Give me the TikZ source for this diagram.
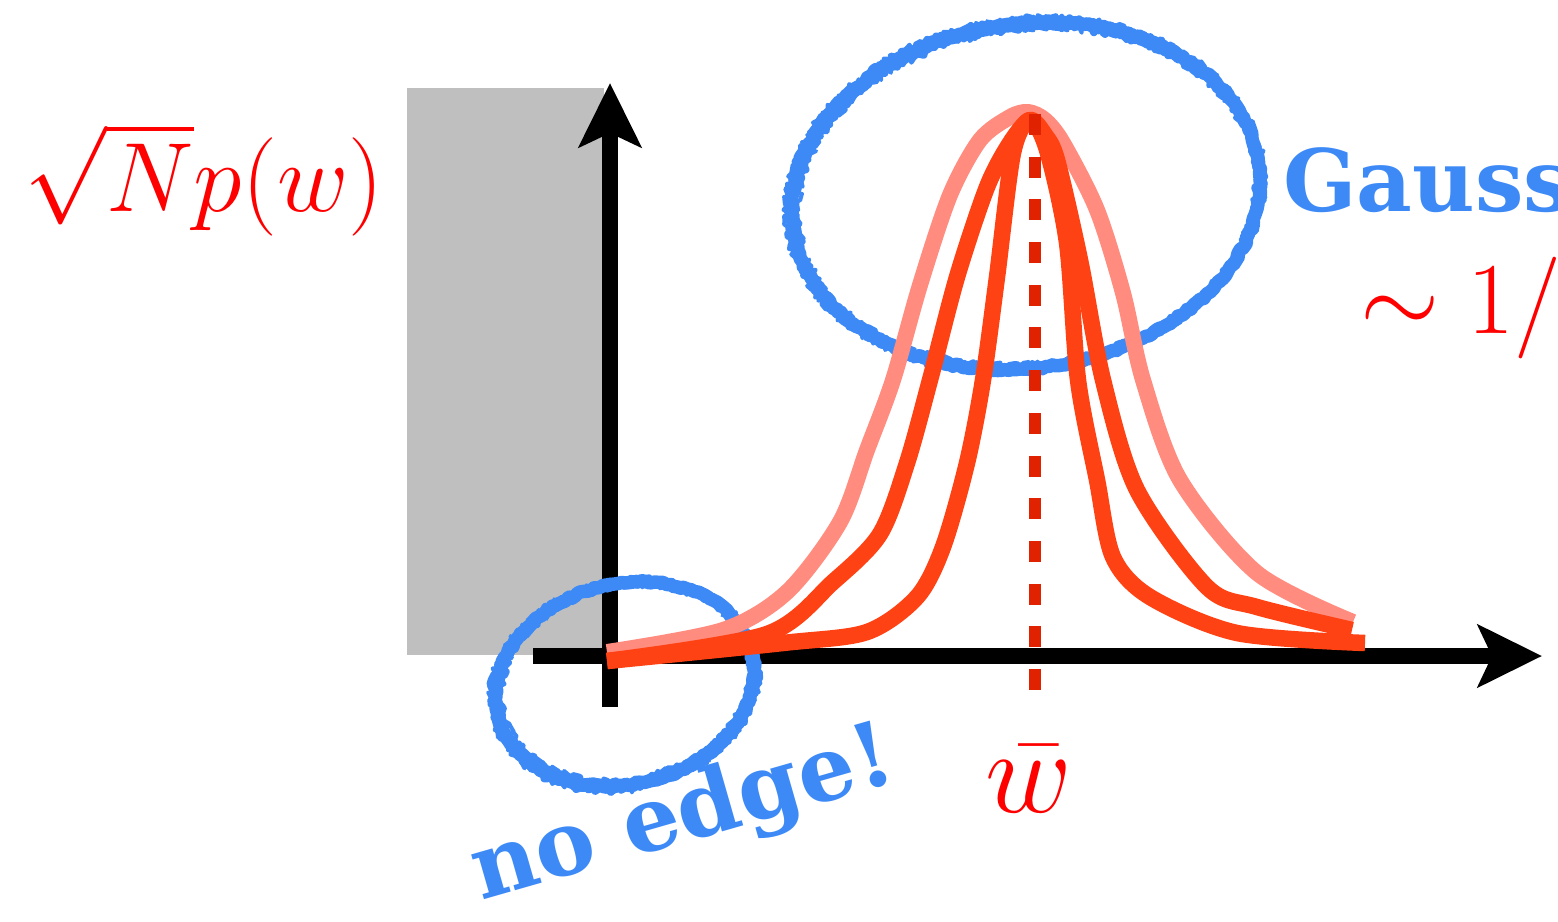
\RequirePackage{fix-cm}
\documentclass[tikz,border=0pt]{standalone}
\usepackage{fontspec}
\newfontfamily\decofont{DejaVu Serif}
\usetikzlibrary{arrows.meta,decorations.pathmorphing}
\definecolor{myblue}{HTML}{3D8AF7}
\definecolor{lightred}{HTML}{FF8C7E}
\definecolor{mainred}{HTML}{FF4213}
\definecolor{dashred}{HTML}{E02200}
\definecolor{rectgray}{HTML}{BFBFBF}
\begin{document}
\begin{tikzpicture}[x=0.02cm,y=-0.02cm,
  axis/.style={line width=0.32cm,-{Stealth[length=1.28cm,width=1.24cm,inset=0.28cm]}},
  curvelight/.style={lightred,line width=0.32cm,line join=round},
  curvemain/.style={mainred,line width=0.33cm,line join=round},
  sketchA/.style={myblue,line width=0.27cm,line join=round,line cap=round,decorate,decoration={random steps,segment length=2pt,amplitude=0.8pt}},
  sketchB/.style={myblue,line width=0.08cm,line join=round,line cap=round,decorate,decoration={random steps,segment length=1.5pt,amplitude=1.6pt}},
  redmath/.style={text=red,inner sep=0pt},
  bluedeco/.style={text=myblue,inner sep=0pt}]
\useasboundingbox (0,0) rectangle (1558,922);
\clip (0,0) rectangle (1558,922);
% grey region
\fill[rectgray] (407,88) rectangle (604,655);
% axes
\coordinate (ystart) at (610,707);
\coordinate (yend) at (610,83);
\coordinate (xstart) at (533,656);
\coordinate (xend) at (1542,656);
\draw[axis] (ystart) -- (yend);
\draw[axis] (xstart) -- (xend);
% blue sketchy ellipses
\draw[sketchA,rotate around={8:(1026,196)}] (1026,196) ellipse [x radius=235, y radius=172];
\draw[sketchB,rotate around={8:(1026,196)}] (1025,195) ellipse [x radius=240, y radius=176];
\draw[sketchB,rotate around={8:(1026,196)}] (1027,197) ellipse [x radius=230, y radius=167];
\draw[sketchA,rotate around={14:(625,684)}] (625,684) ellipse [x radius=131, y radius=100];
\draw[sketchB,rotate around={14:(625,684)}] (624,685) ellipse [x radius=136, y radius=104];
\draw[sketchB,rotate around={14:(625,684)}] (626,683) ellipse [x radius=126, y radius=96];
% curves
\draw[curvelight] plot[smooth,tension=0.5] coordinates {(607,652) (723,630) (787,592) (840,522) (867,450) (893,380) (920,285) (950,195) (980,140) (1010,117) (1028,112) (1045,120) (1063,143) (1097,210) (1123,293) (1143,380) (1180,480) (1257,573) (1353,622)};
\draw[curvemain] plot[smooth,tension=0.5] coordinates {(607,661) (767,634) (833,582) (880,534) (907,463) (930,380) (957,277) (987,187) (1010,143) (1030,120) (1045,135) (1057,160) (1080,260) (1103,380) (1137,490) (1207,587) (1257,607) (1352,630)};
\draw[curvemain] plot[smooth,tension=0.5] coordinates {(607,661) (783,643) (867,632) (917,597) (943,547) (967,463) (983,380) (997,277) (1013,153) (1030,120) (1047,150) (1067,243) (1078,380) (1097,480) (1113,557) (1150,597) (1237,633) (1365,643)};
% dashed mean line
\coordinate (dtop) at (1035,114);
\coordinate (dbot) at (1035,690);
\draw[dashred,line width=0.23cm,dash pattern=on 0.42cm off 0.434cm] (dtop) -- (dbot);
% labels
\node[redmath,anchor=base,font=\fontsize{56}{62}\selectfont] (ylab) at (204,212) {$\sqrt{N}p(w)$};
\node[redmath,anchor=base,font=\fontsize{68}{74}\selectfont] (wbar) at (1029,812) {$\bar{w}$};
\node[redmath,anchor=base west,font=\fontsize{58}{64}\selectfont] (scale) at (1360,333) {$\sim 1/$};
\node[bluedeco,anchor=base west,font=\decofont\bfseries\fontsize{49}{55}\selectfont] (gauss) at (1283,212) {Gauss};
\node[bluedeco,anchor=base,rotate=16,font=\decofont\bfseries\fontsize{51}{57}\selectfont] (noedge) at (690,841) {no edge!};
\end{tikzpicture}
\end{document}
